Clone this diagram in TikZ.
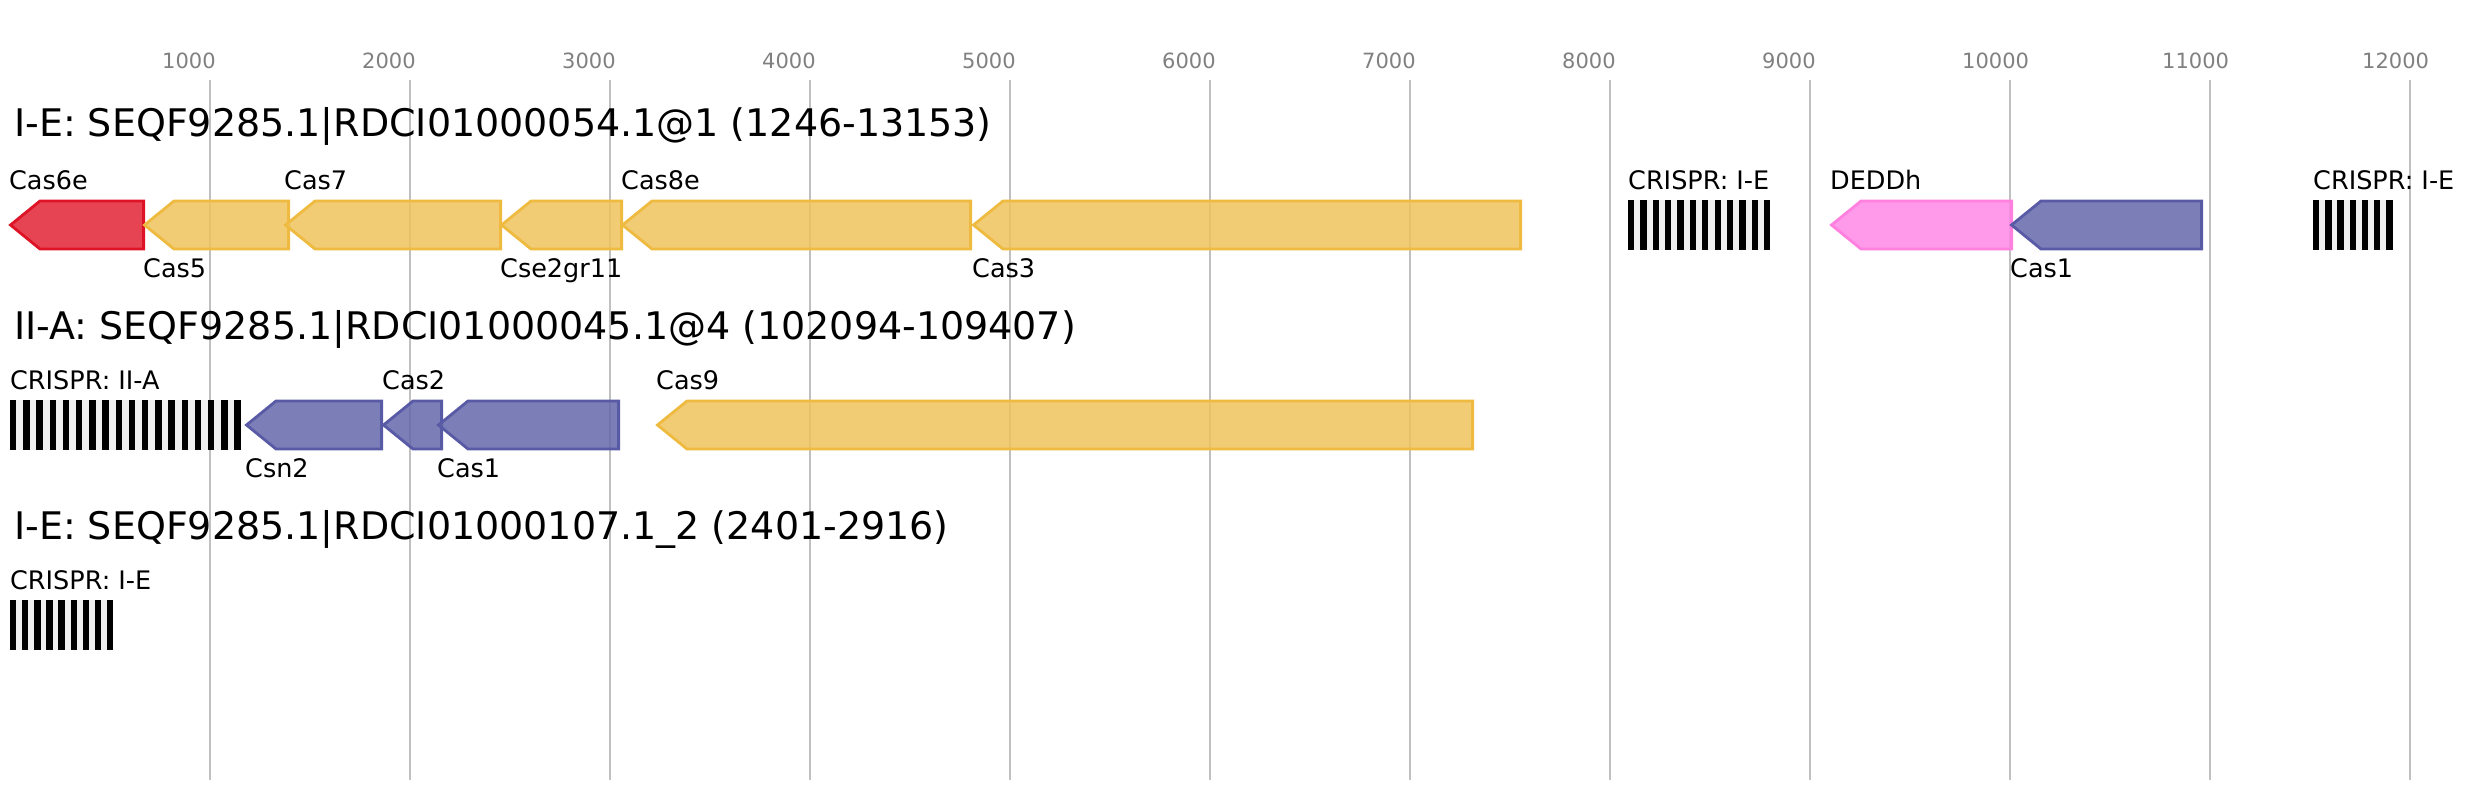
\documentclass[tikz,border=0pt]{standalone}
\usepackage{fontspec}
\setmainfont{DejaVu Sans}
\definecolor{redS}{RGB}{222,20,38}
\definecolor{redF}{RGB}{226,35,52}
\definecolor{yelS}{RGB}{238,187,64}
\definecolor{yelF}{RGB}{238,195,92}
\definecolor{bluS}{RGB}{88,90,165}
\definecolor{bluF}{RGB}{100,103,170}
\definecolor{pnkS}{RGB}{255,128,222}
\definecolor{pnkF}{RGB}{255,135,230}
\definecolor{gridc}{RGB}{192,192,192}
\definecolor{axisc}{RGB}{128,128,128}
\definecolor{arrbg}{RGB}{240,240,240}
\tikzset{
  genebox/.style={line width=2.8pt, line join=miter, fill opacity=0.85},
  redgene/.style={genebox, draw=redS, fill=redF},
  yelgene/.style={genebox, draw=yelS, fill=yelF},
  blugene/.style={genebox, draw=bluS, fill=bluF},
  pnkgene/.style={genebox, draw=pnkS, fill=pnkF},
  lab/.style={font=\fontsize{25.5}{30}\selectfont, inner sep=0pt, anchor=base west},
  ttl/.style={font=\fontsize{38}{45}\selectfont, inner sep=0pt, anchor=base west},
  axl/.style={font=\fontsize{21}{25}\selectfont, text=axisc, inner sep=0pt, anchor=base west},
  gridln/.style={draw=gridc, line width=2pt},
}
\newcommand\revgene[4]{% style, tip, right end, top y
  \draw[#1] (#2+1.5,#4+25) -- (#2+31,#4+1) -- (#3-1.4,#4+1) -- (#3-1.4,#4+49) -- (#2+31,#4+49) -- cycle;}
\newcommand\crarr[4]{% x1, n, period, top y
  \pgfmathsetmacro\arrend{#1+(#2-1)*#3+6.3}
  \fill[arrbg] (#1,#4) rectangle (\arrend,#4+50);
  \foreach \k in {1,...,#2}{\fill[black] ({#1+(\k-1)*#3},#4) rectangle ({#1+(\k-1)*#3+6.3},#4+50);}
}
\begin{document}
\begin{tikzpicture}[x=1pt,y=-1pt]
\useasboundingbox (0,0) rectangle (2481,800);
% axis
\foreach \i in {1,...,12}{
  \draw[gridln] ({10+200*\i},80) -- ({10+200*\i},780);
  \node[axl] (ax\i) at ({10+200*\i-48},69) {\i000};
}
% titles
\node[ttl] (t1) at (14,136) {I-E: SEQF9285.1|RDCI01000054.1@1 (1246-13153)};
\node[ttl] (t2) at (14,339) {II-A: SEQF9285.1|RDCI01000045.1@4 (102094-109407)};
\node[ttl] (t3) at (14,539) {I-E: SEQF9285.1|RDCI01000107.1\_2 (2401-2916)};
% row 1
\revgene{redgene}{9}{145}{200}
\revgene{yelgene}{143}{290}{200}
\revgene{yelgene}{284}{502}{200}
\revgene{yelgene}{500}{623}{200}
\revgene{yelgene}{621}{972}{200}
\revgene{yelgene}{972}{1522}{200}
\crarr{1628}{12}{12.36}{200}
\revgene{pnkgene}{1830}{2013}{200}
\revgene{blugene}{2010}{2203}{200}
\crarr{2313}{7}{12.2}{200}
\node[lab] (l1a) at (9,189) {Cas6e};
\node[lab] (l1b) at (143,277) {Cas5};
\node[lab] (l1c) at (284,189) {Cas7};
\node[lab] (l1d) at (500,277) {Cse2gr11};
\node[lab] (l1e) at (621,189) {Cas8e};
\node[lab] (l1f) at (972,277) {Cas3};
\node[lab] (l1g) at (1628,189) {CRISPR: I-E};
\node[lab] (l1h) at (1830,189) {DEDDh};
\node[lab] (l1i) at (2010,277) {Cas1};
\node[lab] (l1j) at (2313,189) {CRISPR: I-E};
% row 2
\crarr{10}{18}{13.2}{400}
\revgene{blugene}{245}{383}{400}
\revgene{blugene}{382}{443}{400}
\revgene{blugene}{437}{620}{400}
\revgene{yelgene}{656}{1474}{400}
\node[lab] (l2a) at (10,389) {CRISPR: II-A};
\node[lab] (l2b) at (245,477) {Csn2};
\node[lab] (l2c) at (382,389) {Cas2};
\node[lab] (l2d) at (437,477) {Cas1};
\node[lab] (l2e) at (656,389) {Cas9};
% row 3
\crarr{10}{9}{12.1}{600}
\node[lab] (l3a) at (10,589) {CRISPR: I-E};
\end{tikzpicture}
\end{document}
